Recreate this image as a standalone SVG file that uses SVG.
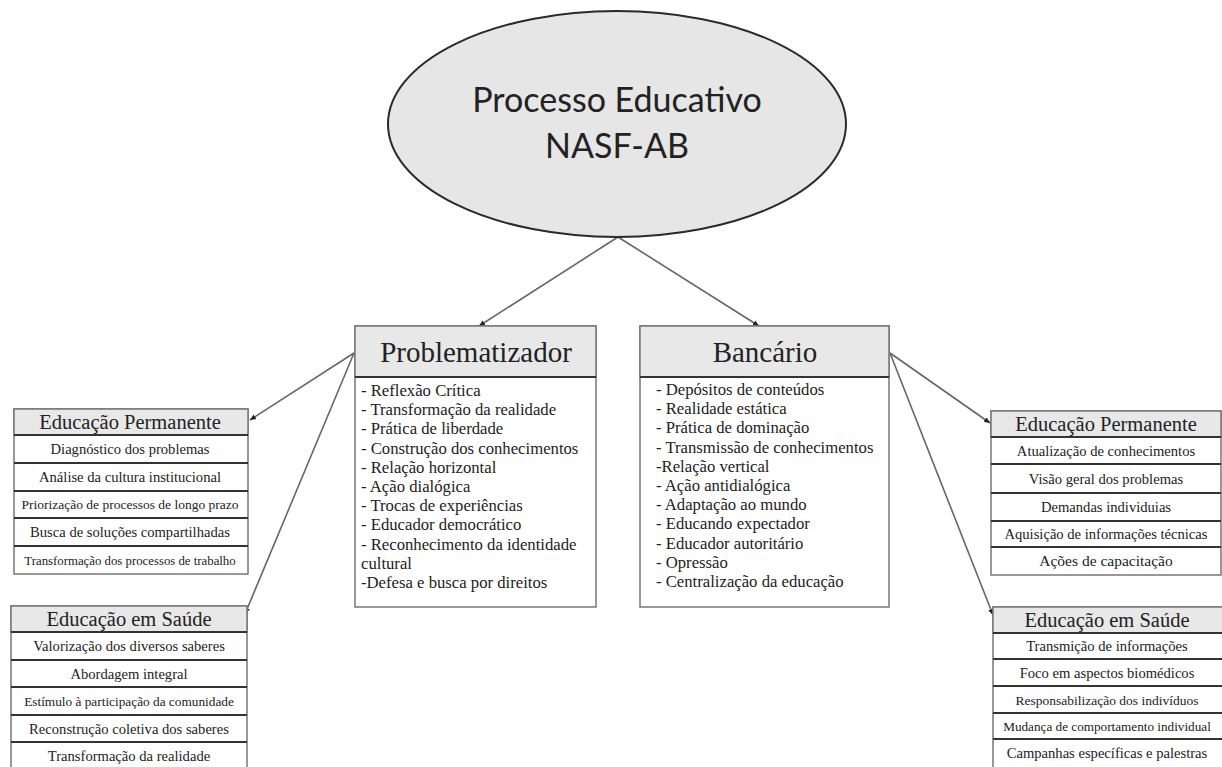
<svg xmlns="http://www.w3.org/2000/svg" width="1222" height="767" viewBox="0 0 1222 767">
<style>
.bg{fill:#fff}
.ell{fill:#e6e6e6;stroke:#2a2a2a;stroke-width:2}
.etx{font-family:Lato,"Open Sans",sans-serif;font-size:34px;fill:#222;text-anchor:middle}
.hdr{fill:#e8e8e8;stroke:#777;stroke-width:1.5}
.box{fill:#fff;stroke:#777;stroke-width:1.5}
.sep{stroke:#333;stroke-width:2}
.h1{font-family:"Liberation Serif",serif;font-size:29px;fill:#222;text-anchor:middle}
.h2{font-family:"Liberation Serif",serif;font-size:20.5px;fill:#222;text-anchor:middle}
.li{font-family:"Liberation Serif",serif;font-size:16.7px;fill:#222}
.row{font-family:"Liberation Serif",serif;font-size:14.6px;fill:#222;text-anchor:middle}
.con{stroke:#666;stroke-width:1.6;fill:none}
</style>
<defs>
<marker id="ah" markerUnits="userSpaceOnUse" markerWidth="7" markerHeight="7" refX="6" refY="3.5" orient="auto">
<path d="M0,0.8 L6,3.5 L0,6.2 z" fill="#222"/>
</marker>
</defs>
<rect class="bg" x="0" y="0" width="1222" height="767"/>

<g id="connectors">
<line class="con" x1="618" y1="237" x2="479" y2="326" marker-end="url(#ah)"/>
<line class="con" x1="618" y1="237" x2="759" y2="326" marker-end="url(#ah)"/>
<line class="con" x1="354" y1="353" x2="250" y2="420" marker-end="url(#ah)"/>
<line class="con" x1="354" y1="353" x2="245" y2="614" marker-end="url(#ah)"/>
<line class="con" x1="890" y1="353" x2="990" y2="423" marker-end="url(#ah)"/>
<line class="con" x1="890" y1="353" x2="993" y2="615" marker-end="url(#ah)"/>
</g>

<g id="root">
<ellipse class="ell" cx="617" cy="124" rx="229" ry="113"/>
<text class="etx" x="617" y="112">Processo Educativo</text>
<text class="etx" x="617" y="158">NASF-AB</text>
</g>

<g id="problematizador">
<rect class="box" x="355" y="326" width="241" height="281"/>
<rect class="hdr" x="355" y="326" width="241" height="51"/>
<line class="sep" x1="355" y1="377" x2="596" y2="377"/>
<text class="h1" x="476" y="362">Problematizador</text>
<text class="li" x="361" y="396">- Reflexão Crítica</text>
<text class="li" x="361" y="415">- Transformação da realidade</text>
<text class="li" x="361" y="434">- Prática de liberdade</text>
<text class="li" x="361" y="454">- Construção dos conhecimentos</text>
<text class="li" x="361" y="473">- Relação horizontal</text>
<text class="li" x="361" y="492">- Ação dialógica</text>
<text class="li" x="361" y="511">- Trocas de experiências</text>
<text class="li" x="361" y="530">- Educador democrático</text>
<text class="li" x="361" y="550">- Reconhecimento da identidade</text>
<text class="li" x="361" y="569">cultural</text>
<text class="li" x="361" y="588">-Defesa e busca por direitos</text>
</g>

<g id="bancario">
<rect class="box" x="640" y="326" width="249" height="281"/>
<rect class="hdr" x="640" y="326" width="249" height="51"/>
<line class="sep" x1="640" y1="377" x2="889" y2="377"/>
<text class="h1" x="765" y="362">Bancário</text>
<text class="li" x="656" y="395">- Depósitos de conteúdos</text>
<text class="li" x="656" y="414">- Realidade estática</text>
<text class="li" x="656" y="433">- Prática de dominação</text>
<text class="li" x="656" y="453">- Transmissão de conhecimentos</text>
<text class="li" x="656" y="472">-Relação vertical</text>
<text class="li" x="656" y="491">- Ação antidialógica</text>
<text class="li" x="656" y="510">- Adaptação ao mundo</text>
<text class="li" x="656" y="529">- Educando expectador</text>
<text class="li" x="656" y="549">- Educador autoritário</text>
<text class="li" x="656" y="568">- Opressão</text>
<text class="li" x="656" y="587">- Centralização da educação</text>
</g>

<g id="ep-left">
<rect class="box" x="14" y="409" width="234" height="165"/>
<rect class="hdr" x="14" y="409" width="234" height="26"/>
<line class="sep" x1="14" y1="435" x2="248" y2="435"/>
<line class="sep" x1="14" y1="463" x2="248" y2="463"/>
<line class="sep" x1="14" y1="491" x2="248" y2="491"/>
<line class="sep" x1="14" y1="518" x2="248" y2="518"/>
<line class="sep" x1="14" y1="546" x2="248" y2="546"/>
<text class="h2" x="130" y="429">Educação Permanente</text>
<text class="row" x="130" y="454">Diagnóstico dos problemas</text>
<text class="row" x="130" y="482">Análise da cultura institucional</text>
<text class="row" x="130" y="509" style="font-size:13.5px">Priorização de processos de longo prazo</text>
<text class="row" x="130" y="537">Busca de soluções compartilhadas</text>
<text class="row" x="130" y="565" style="font-size:12.8px">Transformação dos processos de trabalho</text>
</g>

<g id="es-left">
<rect class="box" x="11" y="606" width="236" height="166"/>
<rect class="hdr" x="11" y="606" width="236" height="26"/>
<line class="sep" x1="11" y1="632" x2="247" y2="632"/>
<line class="sep" x1="11" y1="660" x2="247" y2="660"/>
<line class="sep" x1="11" y1="687" x2="247" y2="687"/>
<line class="sep" x1="11" y1="715" x2="247" y2="715"/>
<line class="sep" x1="11" y1="742" x2="247" y2="742"/>
<text class="h2" x="129" y="626">Educação em Saúde</text>
<text class="row" x="129" y="651">Valorização dos diversos saberes</text>
<text class="row" x="129" y="679">Abordagem integral</text>
<text class="row" x="129" y="706" style="font-size:13.3px">Estímulo à participação da comunidade</text>
<text class="row" x="129" y="734">Reconstrução coletiva dos saberes</text>
<text class="row" x="129" y="761">Transformação da realidade</text>
</g>

<g id="ep-right">
<rect class="box" x="991" y="411" width="230" height="164"/>
<rect class="hdr" x="991" y="411" width="230" height="26"/>
<line class="sep" x1="991" y1="437" x2="1221" y2="437"/>
<line class="sep" x1="991" y1="464" x2="1221" y2="464"/>
<line class="sep" x1="991" y1="493" x2="1221" y2="493"/>
<line class="sep" x1="991" y1="521" x2="1221" y2="521"/>
<line class="sep" x1="991" y1="547" x2="1221" y2="547"/>
<text class="h2" x="1106" y="431">Educação Permanente</text>
<text class="row" x="1106" y="456">Atualização de conhecimentos</text>
<text class="row" x="1106" y="484">Visão geral dos problemas</text>
<text class="row" x="1106" y="512">Demandas individuias</text>
<text class="row" x="1106" y="539">Aquisição de informações técnicas</text>
<text class="row" x="1106" y="566" style="font-size:15.5px">Ações de capacitação</text>
</g>

<g id="es-right">
<rect class="box" x="993" y="607" width="230" height="166"/>
<rect class="hdr" x="993" y="607" width="230" height="26"/>
<line class="sep" x1="993" y1="633" x2="1222" y2="633"/>
<line class="sep" x1="993" y1="659" x2="1222" y2="659"/>
<line class="sep" x1="993" y1="686" x2="1222" y2="686"/>
<line class="sep" x1="993" y1="713" x2="1222" y2="713"/>
<line class="sep" x1="993" y1="739" x2="1222" y2="739"/>
<text class="h2" x="1107" y="627">Educação em Saúde</text>
<text class="row" x="1107" y="651">Transmição de informações</text>
<text class="row" x="1107" y="678">Foco em aspectos biomédicos</text>
<text class="row" x="1107" y="705" style="font-size:13.5px">Responsabilização dos indivíduos</text>
<text class="row" x="1107" y="731" style="font-size:13.2px">Mudança de comportamento individual</text>
<text class="row" x="1107" y="758">Campanhas específicas e palestras</text>
</g>
</svg>
